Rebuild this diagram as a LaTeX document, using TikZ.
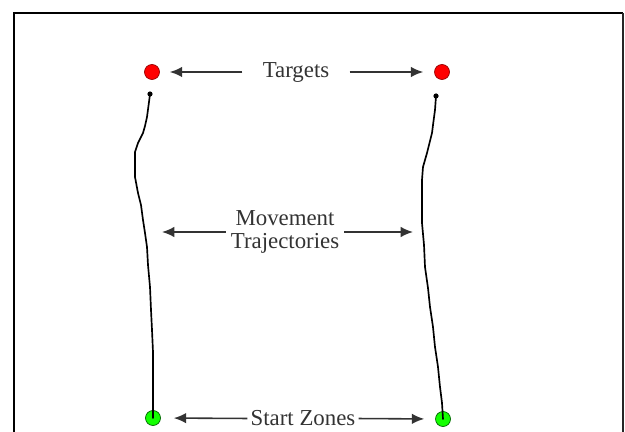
\documentclass[tikz,border=0pt]{standalone}
\usepackage{fontspec}
\setmainfont{Liberation Serif}
\usetikzlibrary{arrows.meta}

\begin{document}
\begin{tikzpicture}[x=0.02cm, y=-0.02cm,
    target/.style={circle, draw=red!60!black, fill=red, inner sep=0pt, minimum size=0.3cm},
    startzone/.style={circle, draw=green!40!black, fill=green!90!lime, inner sep=0pt, minimum size=0.3cm},
    caption/.style={text=black!80, inner sep=0pt, align=center, font=\fontsize{13}{13.5}\selectfont},
    pointer/.style={black!80, line width=0.9pt, -{Latex[length=7pt, width=6pt]}},
    trace/.style={black, line width=0.95pt, line join=round, line cap=round}]
\useasboundingbox (0,0) rectangle (625,432);

% frame
\draw[line width=1.7pt] (14,432) -- (14,13) -- (623,13);
\draw[line width=1.1pt, black!85] (623,13) -- (623,432);

% targets and start zones
\node[target] (tl) at (152,72) {};
\node[target] (tr) at (442,72) {};
\node[startzone] (sl) at (153,418) {};
\node[startzone] (sr) at (443,419) {};

% movement trajectories
\draw[trace] (150,94) -- (149,102) -- (147,117) -- (145,126) -- (143,133) -- (138,143) -- (135,152)
    -- (135,165) -- (135,177) -- (138,193) -- (141,205) -- (143,220) -- (145,233) -- (147,247)
    -- (148,265) -- (150,287) -- (151,310) -- (152,330) -- (153,352) -- (153,373) -- (153,400) -- (sl.center);
\fill (150,94) circle (2.6);
\draw[trace] (436,96) -- (435,110) -- (433,125) -- (432,133) -- (429,145) -- (427,153) -- (423,167)
    -- (422,180) -- (422,200) -- (422,223) -- (424,245) -- (425,267) -- (428,288) -- (430,307)
    -- (433,327) -- (435,347) -- (438,367) -- (440,387) -- (442,403) -- (sr.center);
\fill (436,96) circle (2.6);

% labels
\node[caption] (tg) at (296,72) {Targets};
\draw[pointer, shorten <=0.4cm, shorten >=0.2cm] (tg.west) -- (tl.east);
\draw[pointer, shorten <=0.4cm, shorten >=0.22cm] (tg.east) -- (tr.west);

\coordinate (ml) at (162,232);
\coordinate (mr) at (413,232);
\node[caption] (mv) at (285,232) {Movement\\Trajectories};
\draw[pointer, shorten <=0.1cm] (mv.west) -- (ml);
\draw[pointer, shorten <=0.1cm] (mv.east) -- (mr);

\node[caption] (sz) at (303,418.5) {Start Zones};
\draw[pointer, shorten <=0.06cm, shorten >=0.26cm] (sz.west) -- (sl.east);
\draw[pointer, shorten <=0.06cm, shorten >=0.22cm] (sz.east) -- (sr.west);
\end{tikzpicture}
\end{document}
